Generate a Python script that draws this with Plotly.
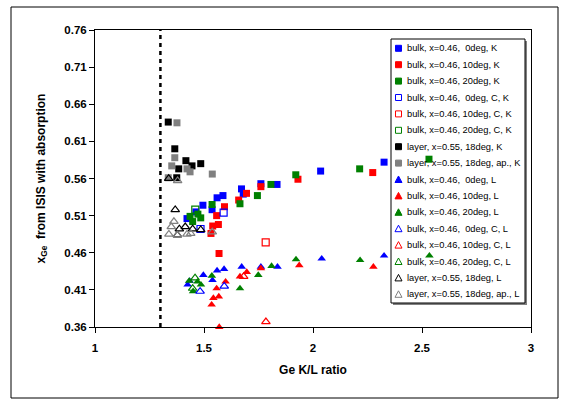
import plotly.graph_objects as go

# ---- data: Ge mole fraction vs Ge K/L intensity ratio ----
blue_k_x = [1.422, 1.463, 1.495, 1.537, 1.560, 1.587, 1.672, 1.680, 1.761, 1.835, 2.035, 2.326]
blue_k_y = [0.506, 0.515, 0.524, 0.518, 0.534, 0.537, 0.546, 0.539, 0.553, 0.552, 0.570, 0.582]

red_k_x = [1.532, 1.540, 1.566, 1.558, 1.594, 1.659, 1.695, 1.761, 1.931, 2.274, 1.569]
red_k_y = [0.486, 0.496, 0.498, 0.510, 0.522, 0.531, 0.540, 0.549, 0.559, 0.568, 0.459]

green_k_x = [1.436, 1.448, 1.472, 1.485, 1.537, 1.665, 1.745, 1.807, 1.921, 2.214, 2.532]
green_k_y = [0.509, 0.502, 0.512, 0.507, 0.525, 0.526, 0.537, 0.552, 0.565, 0.573, 0.586]

blue_ck_x = [1.484, 1.590]
blue_ck_y = [0.492, 0.514]
red_ck_x = [1.783]
red_ck_y = [0.474]
green_ck_x = [1.460]
green_ck_y = [0.518]

black_k_x = [1.336, 1.366, 1.417, 1.445, 1.485, 1.384, 1.375]
black_k_y = [0.636, 0.600, 0.584, 0.577, 0.580, 0.573, 0.561]
gray_k_x = [1.376, 1.366, 1.352, 1.422, 1.436, 1.538, 1.336]
gray_k_y = [0.635, 0.588, 0.577, 0.573, 0.569, 0.566, 0.561]

blue_l_x = [1.425, 1.434, 1.497, 1.539, 1.560, 1.592, 1.673, 1.761, 1.837, 2.040, 2.326]
blue_l_y = [0.417, 0.422, 0.430, 0.423, 0.436, 0.438, 0.441, 0.441, 0.441, 0.452, 0.456]

red_l_x = [1.535, 1.543, 1.568, 1.558, 1.599, 1.665, 1.696, 1.761, 1.937, 2.277, 1.570]
red_l_y = [0.390, 0.399, 0.401, 0.412, 0.421, 0.428, 0.434, 0.439, 0.443, 0.441, 0.360]

green_l_x = [1.432, 1.450, 1.470, 1.486, 1.536, 1.665, 1.749, 1.810, 1.922, 2.216, 2.534]
green_l_y = [0.422, 0.408, 0.421, 0.417, 0.429, 0.412, 0.430, 0.442, 0.451, 0.450, 0.456]

blue_cl_x = [1.482, 1.593]
blue_cl_y = [0.408, 0.415]
red_cl_x = [1.784, 1.682]
red_cl_y = [0.367, 0.428]
green_cl_x = [1.459, 1.448]
green_cl_y = [0.426, 0.412]

black_l_x = [1.338, 1.368, 1.387, 1.378, 1.414, 1.448, 1.485]
black_l_y = [0.560, 0.518, 0.492, 0.484, 0.495, 0.492, 0.491]
gray_l_x = [1.379, 1.362, 1.350, 1.339, 1.378, 1.422, 1.439, 1.538]
gray_l_y = [0.557, 0.502, 0.495, 0.485, 0.484, 0.485, 0.486, 0.488]

series_names = [
    "bulk, x=0.46,\u00a0 0deg, K", "bulk, x=0.46, 10deg, K", "bulk, x=0.46, 20deg, K",
    "bulk, x=0.46,\u00a0 0deg, C, K", "bulk, x=0.46, 10deg, C, K", "bulk, x=0.46, 20deg, C, K",
    "layer, x=0.55, 18deg, K", "layer, x=0.55, 18deg, ap., K",
    "bulk, x=0.46,\u00a0 0deg, L", "bulk, x=0.46, 10deg, L", "bulk, x=0.46, 20deg, L",
    "bulk, x=0.46,\u00a0 0deg, C, L", "bulk, x=0.46, 10deg, C, L", "bulk, x=0.46, 20deg, C, L",
    "layer, x=0.55, 18deg, L", "layer, x=0.55, 18deg, ap., L",
]
series_x = [blue_k_x, red_k_x, green_k_x, blue_ck_x, red_ck_x, green_ck_x, black_k_x, gray_k_x,
            blue_l_x, red_l_x, green_l_x, blue_cl_x, red_cl_x, green_cl_x, black_l_x, gray_l_x]
series_y = [blue_k_y, red_k_y, green_k_y, blue_ck_y, red_ck_y, green_ck_y, black_k_y, gray_k_y,
            blue_l_y, red_l_y, green_l_y, blue_cl_y, red_cl_y, green_cl_y, black_l_y, gray_l_y]

BLUE, RED, GREEN, BLACK, GRAY = "#0000FF", "#FF0000", "#008000", "#000000", "#808080"
colors = [BLUE, RED, GREEN, BLUE, RED, GREEN, BLACK, GRAY,
          BLUE, RED, GREEN, BLUE, RED, GREEN, BLACK, GRAY]
shapes_kind = ["sq"] * 8 + ["tri"] * 8
is_open = [False, False, False, True, True, True, False, False,
           False, False, False, True, True, True, True, True]

y_ticks = [0.36, 0.41, 0.46, 0.51, 0.56, 0.61, 0.66, 0.71, 0.76]
x_ticks = [1, 1.5, 2, 2.5, 3]

# plot area in pixels
W, H = 566, 406
L, R, T, B = 95, 531, 30, 327


def px(x):
    return (x - L) / (R - L)


def py(y):
    return (B - y) / (B - T)


fig = go.Figure()
for name, xs, ys, c, kind, op in zip(series_names, series_x, series_y, colors, shapes_kind, is_open):
    if kind == "sq":
        sym = "square-open" if op else "square"
        size = 7
    else:
        sym = "triangle-up-open" if op else "triangle-up"
        size = 7.5
    fig.add_trace(go.Scatter(
        x=xs, y=ys, mode="markers", name=name, showlegend=False, cliponaxis=False,
        marker=dict(symbol=sym, size=size, color=c,
                    line=dict(width=1.2 if op else 0, color=c)),
    ))

shapes = []
# outer chart frame
shapes.append(dict(type="rect", xref="paper", yref="paper",
                   x0=px(11), x1=px(558), y0=py(7), y1=py(398),
                   line=dict(color="black", width=1), layer="below"))
# dashed reference line at K/L = 1.3
shapes.append(dict(type="line", xref="x", yref="y", x0=1.3, x1=1.3, y0=0.36, y1=0.76,
                   line=dict(color="black", width=2.5, dash="4px,4px")))

# legend box with shadow (kept beneath the markers)
lx0, lx1, ly0, ly1 = 391, 525, 39, 303
shapes.append(dict(type="rect", xref="paper", yref="paper", layer="below",
                   x0=px(lx0 + 2), x1=px(lx1 + 2), y0=py(ly0 + 2), y1=py(ly1 + 2),
                   line=dict(width=0), fillcolor="#808080"))
shapes.append(dict(type="rect", xref="paper", yref="paper", layer="below",
                   x0=px(lx0), x1=px(lx1), y0=py(ly0), y1=py(ly1),
                   line=dict(color="black", width=1), fillcolor="white"))

annotations = []
for i, (name, c, kind, op) in enumerate(zip(series_names, colors, shapes_kind, is_open)):
    cy = 48.3 + 16.4 * i
    cx = 398.5
    if kind == "sq":
        s = 3
        shapes.append(dict(type="rect", xref="paper", yref="paper",
                           x0=px(cx - s), x1=px(cx + s), y0=py(cy - s), y1=py(cy + s),
                           line=dict(color=c, width=1),
                           fillcolor="white" if op else c))
    else:
        path = "M {:.5f},{:.5f} L {:.5f},{:.5f} L {:.5f},{:.5f} Z".format(
            px(cx - 3.5), py(cy + 3), px(cx + 3.5), py(cy + 3), px(cx), py(cy - 3.5))
        shapes.append(dict(type="path", xref="paper", yref="paper", path=path,
                           line=dict(color=c, width=1),
                           fillcolor="white" if op else c))
    annotations.append(dict(xref="paper", yref="paper", x=px(405), y=py(cy),
                            xanchor="left", yanchor="middle", showarrow=False,
                            text=name, font=dict(size=9.3, color="black",
                                                 family="Liberation Sans, Arial, sans-serif")))

fig.update_layout(
    width=W, height=H,
    margin=dict(l=L, r=W - R, t=T, b=H - B, pad=0),
    paper_bgcolor="white", plot_bgcolor="white",
    font=dict(family="Liberation Sans, Arial, sans-serif", color="black"),
    shapes=shapes, annotations=annotations, showlegend=False,
    xaxis=dict(range=[1, 3], tickvals=x_ticks, ticktext=["1", "1.5", "2", "2.5", "3"],
               showgrid=False, zeroline=False, showline=True, mirror=True,
               linecolor="black", linewidth=1, ticks="outside", ticklen=5,
               tickcolor="black", tickfont=dict(size=11.5, weight="bold"),
               ticklabelstandoff=5,
               title=dict(text="Ge K/L ratio", font=dict(size=12, weight="bold"), standoff=12)),
    yaxis=dict(range=[0.36, 0.76], tickvals=y_ticks, tickformat=".2f",
               showgrid=False, zeroline=False, showline=True, mirror=True,
               linecolor="black", linewidth=1, ticks="outside", ticklen=5,
               tickcolor="black", tickfont=dict(size=11.5, weight="bold"),
               title=dict(text="x<sub>Ge</sub>  from ISIS with absorption",
                          font=dict(size=12, weight="bold"), standoff=16)),
)

fig.write_html("out.html")
